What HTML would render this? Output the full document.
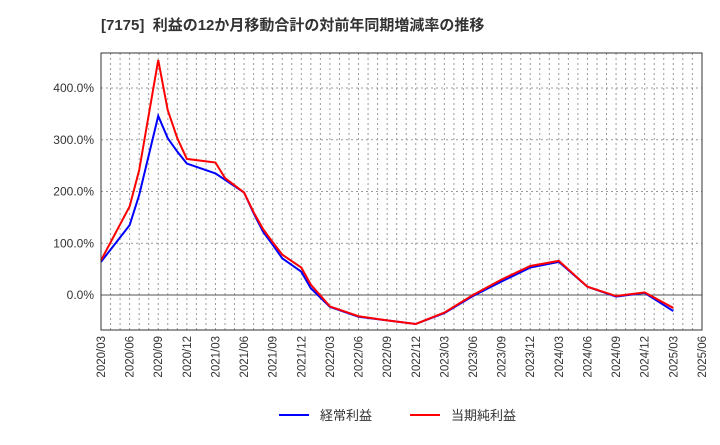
<!DOCTYPE html>
<html><head><meta charset="utf-8"><style>
body{margin:0;background:#fff;width:720px;height:440px;overflow:hidden;font-family:"Liberation Sans","Noto Sans CJK JP",sans-serif;}
</style></head><body>
<svg id="chart" width="720" height="440" xmlns="http://www.w3.org/2000/svg">
<text x="101" y="30" font-size="15" font-weight="bold" fill="#333" font-family="Liberation Sans, Noto Sans CJK JP, sans-serif" xml:space="preserve">[7175]  利益の12か月移動合計の対前年同期増減率の推移</text>
<g id="grid"></g>
<g id="series"></g>
<rect x="101" y="53" width="601" height="277" fill="none" stroke="#333" stroke-width="1"/>
<g>
<line x1="279" y1="415" x2="309" y2="415" stroke="#0000ff" stroke-width="2"/>
<text x="320" y="420" font-size="13" fill="#333">経常利益</text>
<line x1="410" y1="415" x2="440" y2="415" stroke="#ff0000" stroke-width="2"/>
<text x="451" y="420" font-size="13" fill="#333">当期純利益</text>
</g>
</svg>
<script>
const xLabels=["2020/03","2020/06","2020/09","2020/12","2021/03","2021/06","2021/09","2021/12","2022/03","2022/06","2022/09","2022/12","2023/03","2023/06","2023/09","2023/12","2024/03","2024/06","2024/09","2024/12","2025/03","2025/06"];
const yTicks=[0,100,200,300,400];
const blueMonths=[0,3,4,6,7,8,9,12,15,16,17,18,19,21,22,24,27,30,33,36,39,42,45,48,51,54,57,60];
const blueValues=[64,135,193,346,303,277,254,235,198,158,122,97,71,45,13,-23,-42,-49,-56,-35,-2,26,53,64,16,-3,4,-31];
const redMonths=[0,3,4,6,7,8,9,12,13,15,16,17,18,19,21,22,24,27,30,33,36,39,42,45,48,51,54,57,60];
const redValues=[67,171,241,454,357,303,263,256,226,198,160,127,102,78,53,20,-22,-41,-49,-56,-34,0,30,56,66,16,-2,5,-25];
const X0=101,XM=9.5381,Y0=295,YS=0.5175;
const xs=m=>X0+m*XM, ys=v=>Y0-v*YS;
const NS="http://www.w3.org/2000/svg";
const grid=document.getElementById('grid'), series=document.getElementById('series');
for(let m=1;m<63;m++){
  const l=document.createElementNS(NS,'line');
  
  
  l.setAttribute('x1',xs(m));l.setAttribute('x2',xs(m));l.setAttribute('y1',53);l.setAttribute('y2',330);
  l.setAttribute('stroke','#999');l.setAttribute('stroke-dasharray','2,3');l.setAttribute('stroke-width','1');
  grid.appendChild(l);
}
yTicks.forEach(v=>{
  const l=document.createElementNS(NS,'line');
  
  
  l.setAttribute('x1',101);l.setAttribute('x2',702);l.setAttribute('y1',ys(v));l.setAttribute('y2',ys(v));
  l.setAttribute('stroke',v===0?'#555':'#999');
  if(v!==0)l.setAttribute('stroke-dasharray','2,3');
  grid.appendChild(l);
  const t=document.createElementNS(NS,'text');
  
  
  t.setAttribute('x',94);t.setAttribute('y',ys(v)+4);t.setAttribute('text-anchor','end');
  t.setAttribute('font-size','12');t.setAttribute('fill','#333');
  t.textContent=v.toFixed(1)+'%';
  grid.appendChild(t);
});
xLabels.forEach((s,i)=>{
  const x=xs(i*3);
  const t=document.createElementNS(NS,'text');
  
  
  t.setAttribute('transform','translate('+(x+4)+',336) rotate(-90)');
  t.setAttribute('text-anchor','end');t.setAttribute('font-size','11.5');t.setAttribute('fill','#333');
  t.textContent=s;
  grid.appendChild(t);
});
function drawLine(ms,vs,color,name){
  const p=document.createElementNS(NS,'polyline');
  
  
  p.setAttribute('points',ms.map((m,i)=>xs(m)+','+ys(vs[i])).join(' '));
  p.setAttribute('fill','none');p.setAttribute('stroke',color);p.setAttribute('stroke-width','2');
  series.appendChild(p);
}
drawLine(blueMonths,blueValues,'#0000ff','operating-profit-line');
drawLine(redMonths,redValues,'#ff0000','net-profit-line');
</script>
</body></html>
